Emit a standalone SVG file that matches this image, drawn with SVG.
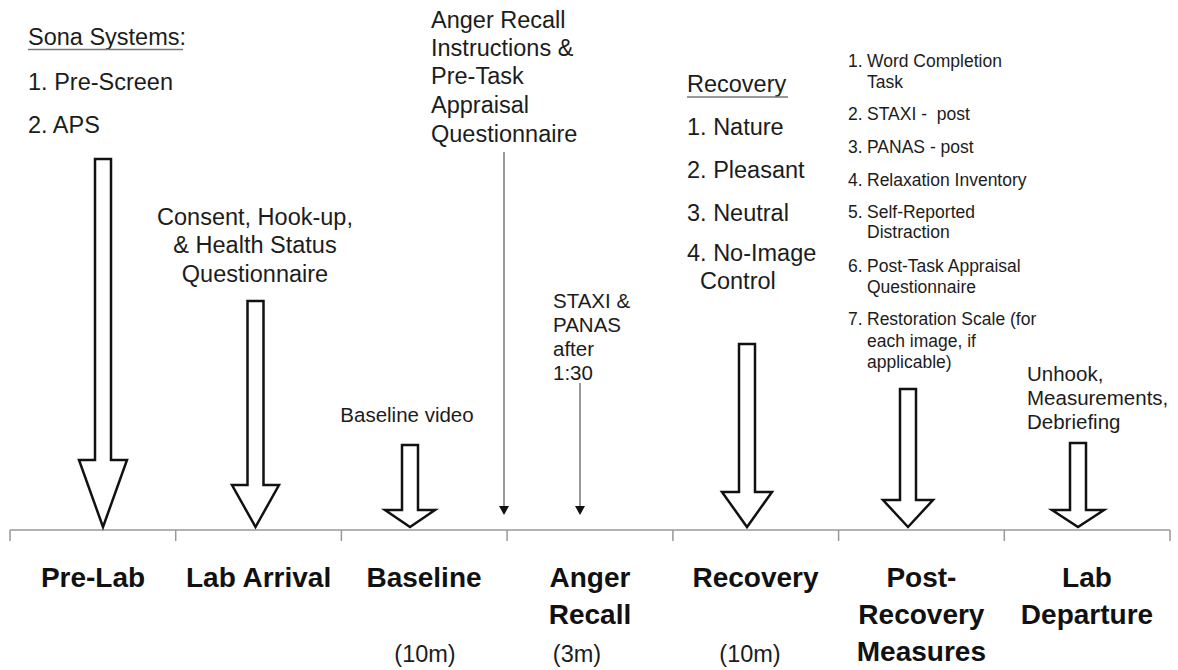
<svg xmlns="http://www.w3.org/2000/svg" width="1178" height="670" viewBox="0 0 1178 670">
<style>
text{font-family:"Liberation Sans",Arial,sans-serif;fill:#1c1c1c}
.t{font-size:23.5px}
.m{font-size:20.5px}
.s{font-size:17.5px}
.b{font-size:28px;font-weight:bold;text-anchor:middle;fill:#111}
.c{text-anchor:middle}
.ul{stroke:#777;stroke-width:1.5}
.big{fill:#fff;stroke:#111;stroke-width:2.5;stroke-linejoin:miter}
.thin{stroke:#555;stroke-width:1.2;fill:none}
.axis{stroke:#999;stroke-width:1.5;fill:none}
</style>
<defs>
<marker id="tri" viewBox="0 0 9 10" refX="0" refY="5" markerWidth="9" markerHeight="10" markerUnits="userSpaceOnUse" orient="auto">
<path d="M0,0 L9,5 L0,10 z" fill="#111"/>
</marker>
</defs>
<rect width="1178" height="670" fill="#fff"/>

<g id="axis">
<path class="axis" d="M10,530 H1170 M10,530 V541 M175.7,530 V541 M341.4,530 V541 M507.1,530 V541 M672.9,530 V541 M838.6,530 V541 M1004.3,530 V541 M1170,530 V541"/>
</g>

<g id="pre-lab">
<text class="t" x="28" y="45">Sona Systems:</text>
<line class="ul" x1="28" y1="49.5" x2="183" y2="49.5"/>
<text class="t" x="28" y="90">1. Pre-Screen</text>
<text class="t" x="28" y="133">2. APS</text>
<text class="b" x="93" y="587">Pre-Lab</text>
</g>

<g id="lab-arrival">
<text class="t c" x="255" y="225">Consent, Hook-up,</text>
<text class="t c" x="255" y="253">&amp; Health Status</text>
<text class="t c" x="255" y="282">Questionnaire</text>
<text class="b" x="258.6" y="587">Lab Arrival</text>
</g>

<g id="baseline">
<text class="m c" x="407" y="422">Baseline video</text>
<text class="b" x="424" y="587">Baseline</text>
<text class="t c" x="425" y="662">(10m)</text>
</g>

<g id="anger-recall">
<text class="t" x="431" y="28">Anger Recall</text>
<text class="t" x="431" y="56">Instructions &amp;</text>
<text class="t" x="431" y="84">Pre-Task</text>
<text class="t" x="431" y="113">Appraisal</text>
<text class="t" x="431" y="142">Questionnaire</text>
<text class="m" x="553" y="308">STAXI &amp;</text>
<text class="m" x="553" y="332">PANAS</text>
<text class="m" x="553" y="356">after</text>
<text class="m" x="553" y="380">1:30</text>
<text class="b" x="590" y="587">Anger</text>
<text class="b" x="590" y="624">Recall</text>
<text class="t c" x="577" y="662">(3m)</text>
</g>

<g id="recovery">
<text class="t" x="687" y="92">Recovery</text>
<line class="ul" x1="687" y1="97" x2="788" y2="97"/>
<text class="t" x="687" y="135">1. Nature</text>
<text class="t" x="687" y="178">2. Pleasant</text>
<text class="t" x="687" y="221">3. Neutral</text>
<text class="t" x="687" y="261">4. No-Image</text>
<text class="t" x="700" y="289">Control</text>
<text class="b" x="755.5" y="587">Recovery</text>
<text class="t c" x="750" y="662">(10m)</text>
</g>

<g id="post-recovery">
<text class="s" x="848" y="67">1.</text><text class="s" x="867" y="67">Word Completion</text>
<text class="s" x="867" y="88">Task</text>
<text class="s" x="848" y="120">2.</text><text class="s" x="867" y="120" xml:space="preserve">STAXI -  post</text>
<text class="s" x="848" y="153">3.</text><text class="s" x="867" y="153">PANAS - post</text>
<text class="s" x="848" y="186">4.</text><text class="s" x="867" y="186">Relaxation Inventory</text>
<text class="s" x="848" y="218">5.</text><text class="s" x="867" y="218">Self-Reported</text>
<text class="s" x="867" y="238">Distraction</text>
<text class="s" x="848" y="272">6.</text><text class="s" x="867" y="272">Post-Task Appraisal</text>
<text class="s" x="867" y="293">Questionnaire</text>
<text class="s" x="848" y="325">7.</text><text class="s" x="867" y="325">Restoration Scale (for</text>
<text class="s" x="867" y="347">each image, if</text>
<text class="s" x="867" y="368">applicable)</text>
<text class="b" x="921.4" y="587">Post-</text>
<text class="b" x="921.4" y="624">Recovery</text>
<text class="b" x="921.4" y="661">Measures</text>
</g>

<g id="lab-departure">
<text class="m" x="1027" y="381">Unhook,</text>
<text class="m" x="1027" y="405">Measurements,</text>
<text class="m" x="1027" y="429">Debriefing</text>
<text class="b" x="1087" y="587">Lab</text>
<text class="b" x="1087" y="624">Departure</text>
</g>

<g id="connectors">
<polygon class="big" points="95,159 111,159 111,460 127,460 103,527 79,460 95,460"/>
<polygon class="big" points="247.5,301 263.5,301 263.5,485 279,485 255.5,527 232,485 247.5,485"/>
<polygon class="big" points="402,445 418,445 418,510 435,510 410,527 385,510 402,510"/>
<polygon class="big" points="739,344 755,344 755,492 772,492 747,527 722,492 739,492"/>
<polygon class="big" points="900,389 916,389 916,500 933,500 908,527 883,500 900,500"/>
<polygon class="big" points="1070,443 1086,443 1086,510 1104,510 1078,527 1052,510 1070,510"/>
<line class="thin" x1="504" y1="152" x2="504" y2="506" marker-end="url(#tri)"/>
<line class="thin" x1="580" y1="383" x2="580" y2="506" marker-end="url(#tri)"/>
</g>
</svg>
